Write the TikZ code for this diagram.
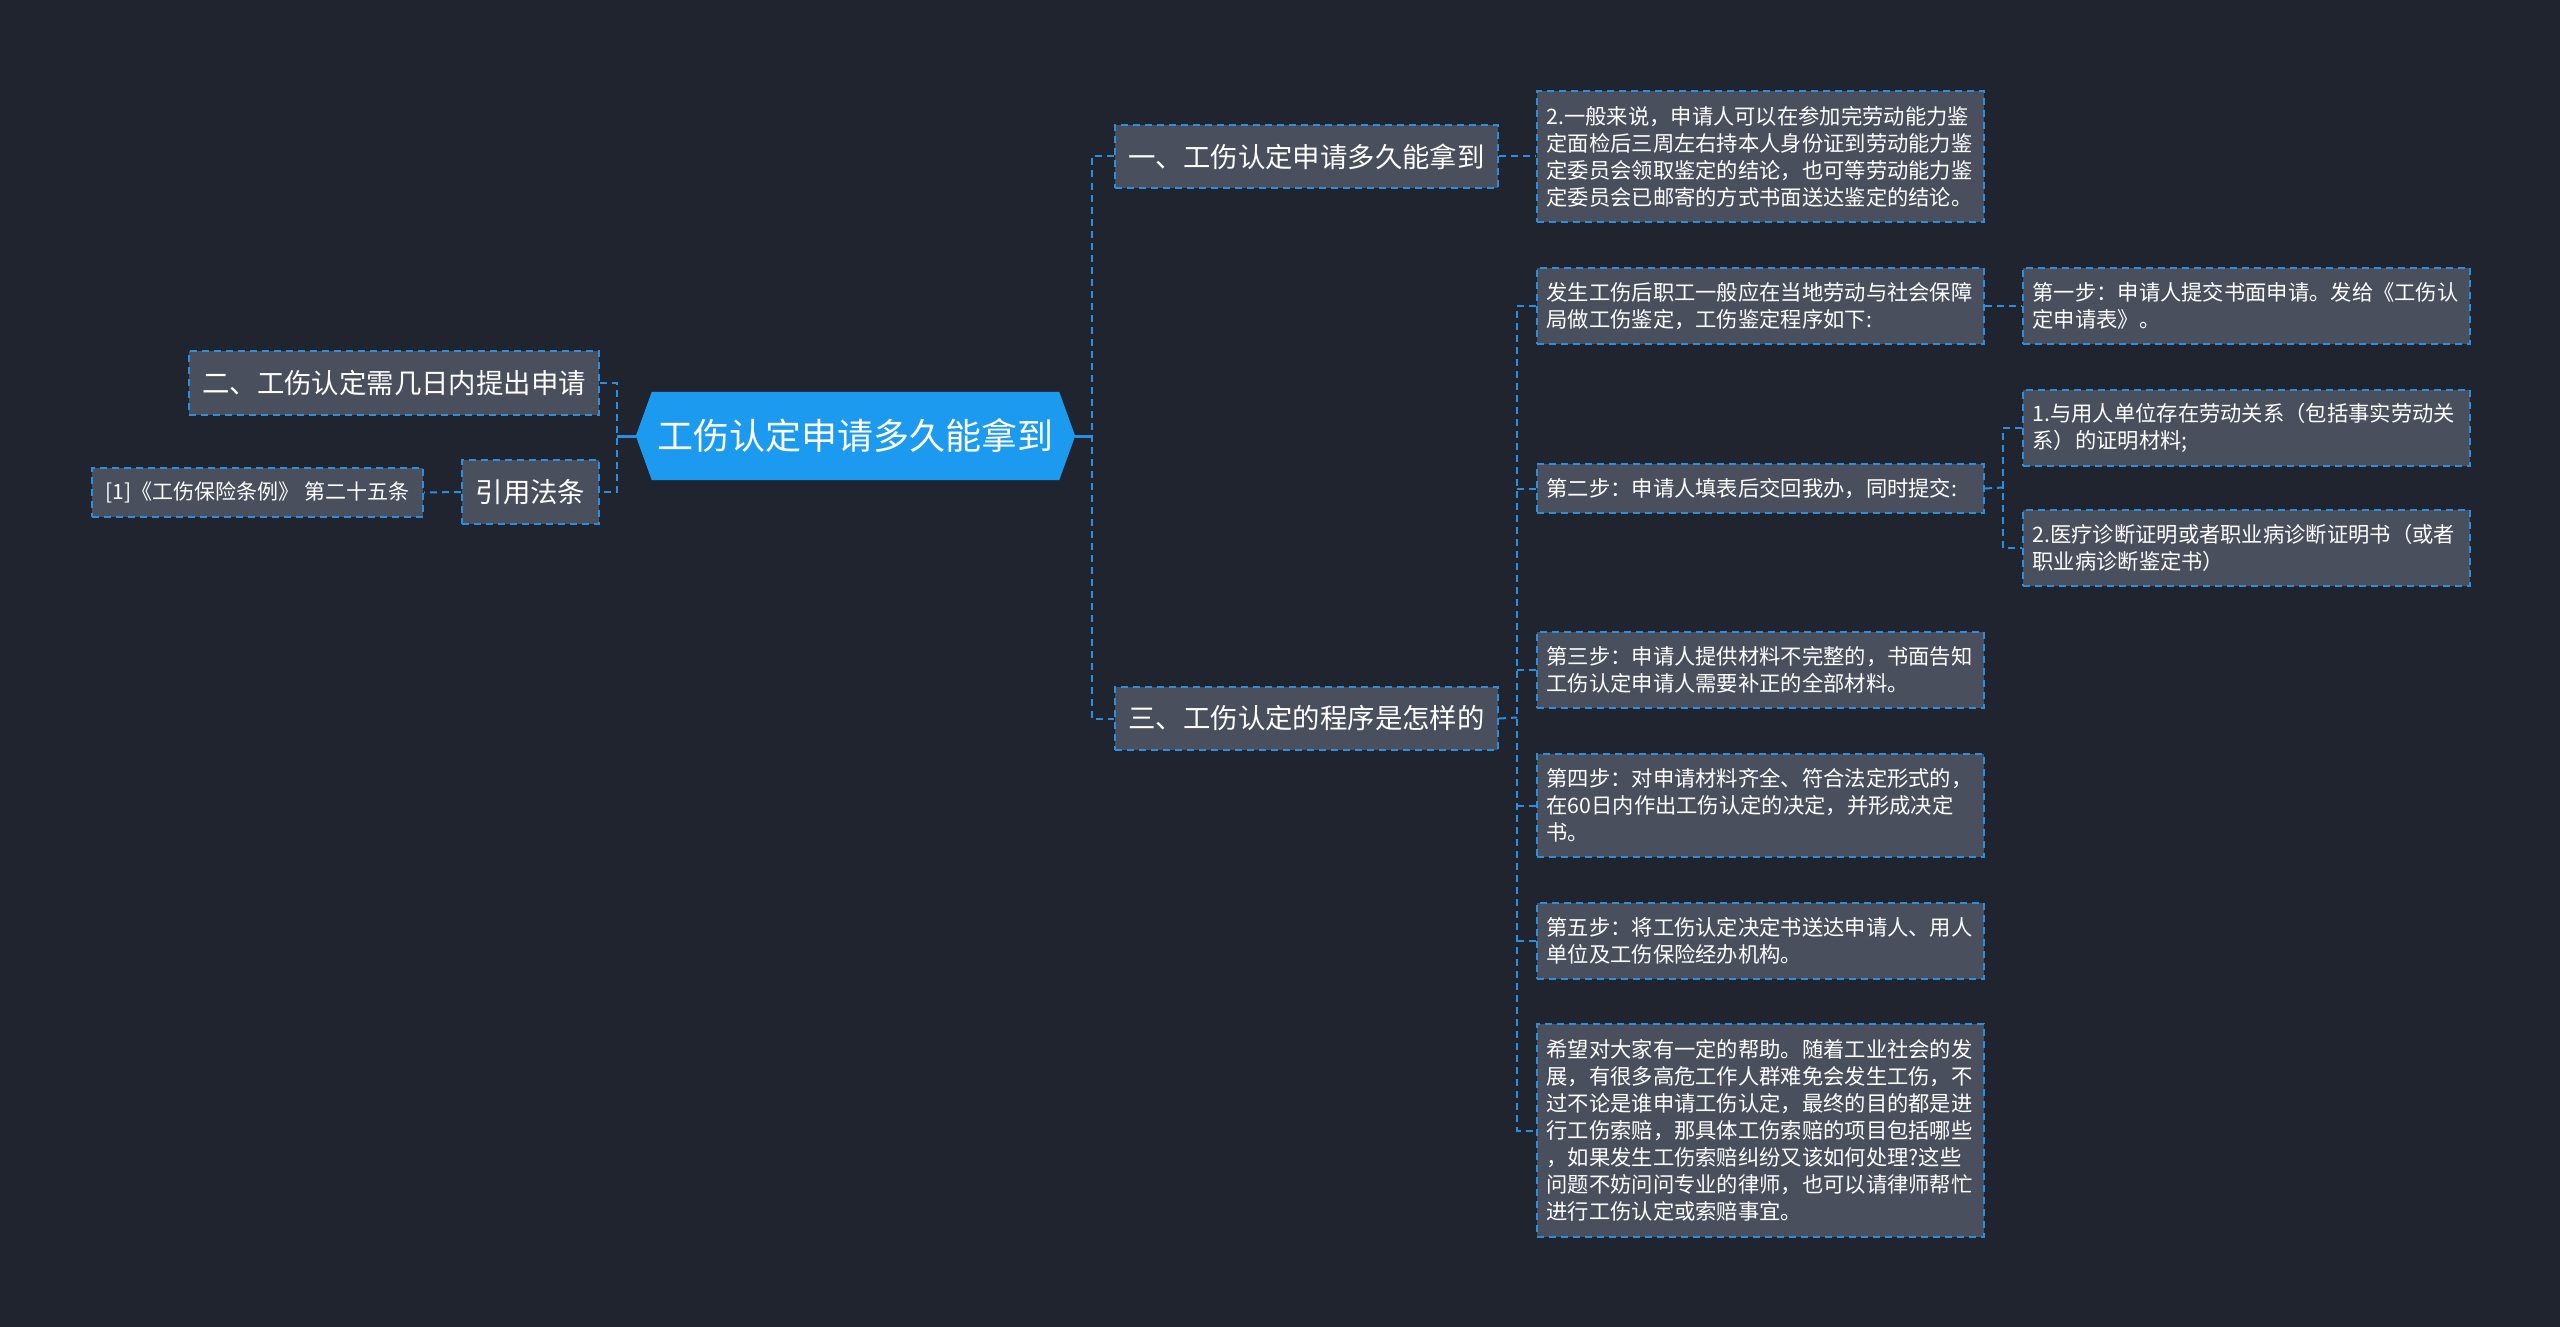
\documentclass[tikz,border=0pt]{standalone}
\usepackage{fontspec}
\setmainfont{Noto Sans CJK SC}
\usetikzlibrary{calc,backgrounds}
\definecolor{bgc}{HTML}{20242F}
\definecolor{boxc}{HTML}{4A4F5E}
\definecolor{linec}{HTML}{2A8FE0}
\definecolor{rootc}{HTML}{1B9AF0}
\tikzset{
  dashline/.style={dash pattern=on 7pt off 5pt, line width=2pt},
  leafbox/.style={draw=linec, fill=boxc, dashline, text=white, text width=428pt,
    align=left, inner xsep=9.5pt, inner ysep=0pt, anchor=north west,
    font=\fontsize{21.3pt}{27pt}\selectfont},
  smallbox/.style={draw=linec, fill=boxc, dashline, text=white, align=center,
    inner sep=0pt, anchor=north west, font=\fontsize{21pt}{27pt}\selectfont},
  midbox/.style={draw=linec, fill=boxc, dashline, text=white, align=center,
    inner sep=0pt, anchor=north west, font=\fontsize{27.4pt}{33pt}\selectfont},
  rootnode/.style={text=white, inner sep=0pt, minimum width=407pt, minimum height=88pt,
    font=\fontsize{36pt}{42pt}\selectfont},
  conn/.style={draw=linec, dashline},
  rootconn/.style={draw=linec, line width=3pt},
}
\begin{document}
\begin{tikzpicture}[x=1pt,y=-1pt]
\begin{scope}[on background layer]
\fill[bgc] (0,0) rectangle (2560,1327);
\end{scope}
\useasboundingbox (0,0) rectangle (2560,1327);

% root
\node[rootnode] (root) at (855.5,436) {工伤认定申请多久能拿到};
\coordinate (rootL) at ($(root.west)+(-16,0)$);
\coordinate (rootR) at ($(root.east)+(16,0)$);
\begin{scope}[on background layer]
\fill[rootc] (root.north west) -- (root.north east) -- (rootR) -- (root.south east)
  -- (root.south west) -- (rootL) -- cycle;
\end{scope}

% left side
\node[midbox, minimum width=410pt, minimum height=64pt] (n2) at (188,350) {二、工伤认定需几日内提出申请};
\node[midbox, minimum width=137pt, minimum height=64pt] (n4) at (461,459) {引用法条};
\node[smallbox, minimum width=331pt, minimum height=49pt] (l0) at (91,467) {[1]《工伤保险条例》 第二十五条};

% right level 1
\node[midbox, minimum width=383pt, minimum height=63pt] (n1) at (1114,124) {一、工伤认定申请多久能拿到};
\node[midbox, minimum width=383pt, minimum height=63pt] (n3) at (1114,686) {三、工伤认定的程序是怎样的};

% leaves
\node[leafbox, minimum height=131pt] (a1) at (1536,90) {2.一般来说，申请人可以在参加完劳动能力鉴\\定面检后三周左右持本人身份证到劳动能力鉴\\定委员会领取鉴定的结论，也可等劳动能力鉴\\定委员会已邮寄的方式书面送达鉴定的结论。};
\node[leafbox, minimum height=76pt] (b0) at (1536,267) {发生工伤后职工一般应在当地劳动与社会保障\\局做工伤鉴定，工伤鉴定程序如下:};
\node[leafbox, minimum height=49pt] (b2) at (1536,463) {第二步：申请人填表后交回我办，同时提交:};
\node[leafbox, minimum height=76pt] (b3) at (1536,631) {第三步：申请人提供材料不完整的，书面告知\\工伤认定申请人需要补正的全部材料。};
\node[leafbox, minimum height=103pt] (b4) at (1536,753) {第四步：对申请材料齐全、符合法定形式的，\\在60日内作出工伤认定的决定，并形成决定\\书。};
\node[leafbox, minimum height=76pt] (b5) at (1536,902) {第五步：将工伤认定决定书送达申请人、用人\\单位及工伤保险经办机构。};
\node[leafbox, minimum height=213pt] (b6) at (1536,1023) {希望对大家有一定的帮助。随着工业社会的发\\展，有很多高危工作人群难免会发生工伤，不\\过不论是谁申请工伤认定，最终的目的都是进\\行工伤索赔，那具体工伤索赔的项目包括哪些\\，如果发生工伤索赔纠纷又该如何处理?这些\\问题不妨问问专业的律师，也可以请律师帮忙\\进行工伤认定或索赔事宜。};

\node[leafbox, minimum height=76pt] (c1) at (2022,267) {第一步：申请人提交书面申请。发给《工伤认\\定申请表》。};
\node[leafbox, minimum height=76pt] (c2) at (2022,389) {1.与用人单位存在劳动关系（包括事实劳动关\\系）的证明材料;};
\node[leafbox, minimum height=76pt] (c3) at (2022,509) {2.医疗诊断证明或者职业病诊断证明书（或者\\职业病诊断鉴定书）};

% connectors
\coordinate (tl) at (617,436);
\coordinate (tr) at (1092,436);
\coordinate (t3) at (1517,717.5);
\coordinate (t2) at (2003,487.5);

\draw[rootconn] (rootL) -- (tl);
\draw[rootconn] (rootR) -- (tr);
\draw[conn] (n2.east) -| (tl) |- (n4.east);
\draw[conn] (n4.west) -- (l0.east);
\draw[conn] (n1.west) -| (tr) |- (n3.west);
\draw[conn] (n1.east) -- (a1.west);
\draw[conn] (n3.east) -- (t3);
\draw[conn] (b0.west) -| (t3) |- (b6.west);
\draw[conn] (b2.west) -- (b2.west -| t3);
\draw[conn] (b3.west) -- (b3.west -| t3);
\draw[conn] (b4.west) -- (b4.west -| t3);
\draw[conn] (b5.west) -- (b5.west -| t3);
\draw[conn] (b0.east) -- (c1.west);
\draw[conn] (b2.east) -- (t2);
\draw[conn] (c2.west) -| (t2) |- (c3.west);
\end{tikzpicture}
\end{document}
